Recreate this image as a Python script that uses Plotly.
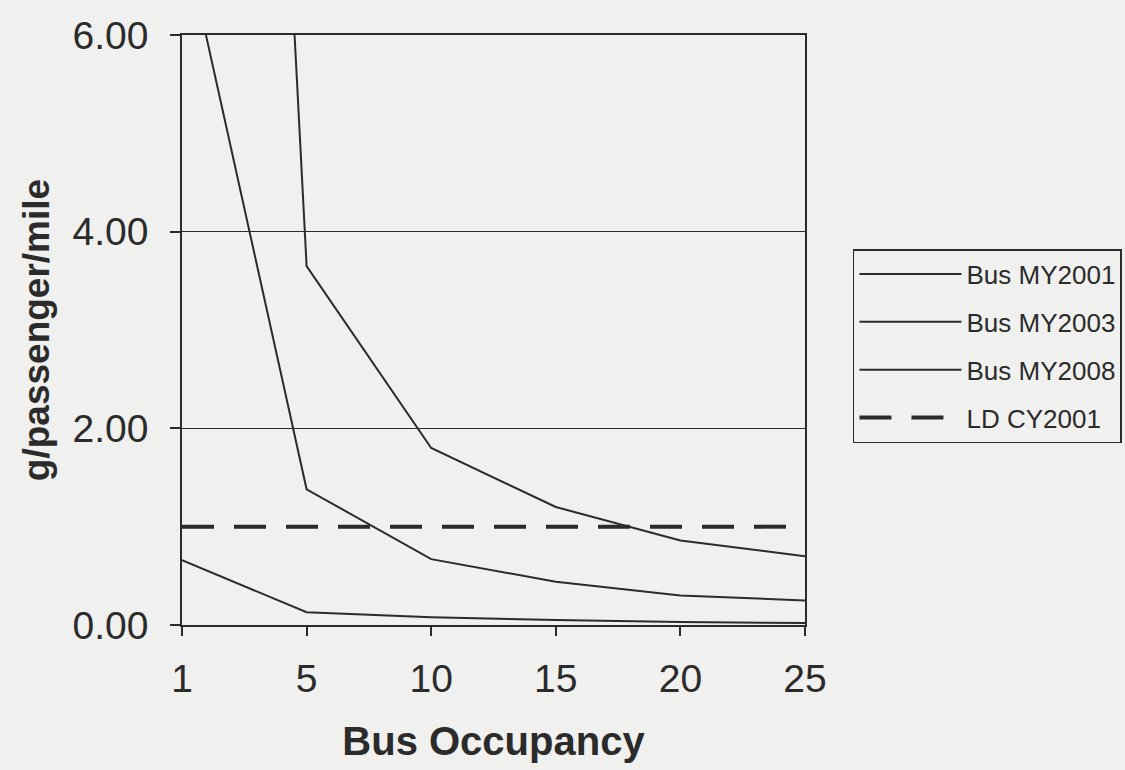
import plotly.graph_objects as go

occupancy = ["1", "5", "10", "15", "20", "25"]
bus_my2001 = [28.0, 3.65, 1.80, 1.20, 0.86, 0.70]
bus_my2003 = [7.1, 1.38, 0.67, 0.44, 0.30, 0.25]
bus_my2008 = [0.66, 0.13, 0.08, 0.05, 0.03, 0.02]
ld_cy2001 = [1.00, 1.00, 1.00, 1.00, 1.00, 1.00]

series = [
    ("Bus MY2001", bus_my2001, dict(color="#2b2b2b", width=2)),
    ("Bus MY2003", bus_my2003, dict(color="#2b2b2b", width=2)),
    ("Bus MY2008", bus_my2008, dict(color="#2b2b2b", width=2)),
    ("LD CY2001", ld_cy2001, dict(color="#2b2b2b", width=4, dash="32px,20px")),
]

fig = go.Figure()
for i, (name, vals, line) in enumerate(series):
    fig.add_trace(go.Scatter(x=occupancy, y=vals, mode="lines", name=name,
                             line=line, legendgroup=f"g{i}"))

bg = "#f0f0ee"
font = "Liberation Sans, Arial, sans-serif"
fig.update_layout(
    width=1125, height=770,
    paper_bgcolor=bg, plot_bgcolor=bg,
    margin=dict(l=182, r=320, t=35, b=145, autoexpand=False),
    font=dict(family=font, color="#2b2b2b"),
    showlegend=True,
    legend=dict(
        x=1.077, y=0.637, xanchor="left", yanchor="top",
        bgcolor=bg, bordercolor="#2b2b2b", borderwidth=1.5,
        font=dict(size=26, family=font, color="#2b2b2b"),
        traceorder="grouped", tracegroupgap=11, itemwidth=102,
    ),
    xaxis=dict(
        type="category", range=[0, 5],
        showgrid=False, zeroline=False,
        showline=True, linecolor="#2b2b2b", linewidth=1.5, mirror=True,
        ticks="outside", ticklen=9, tickcolor="#2b2b2b", tickwidth=1.5,
        ticklabelstandoff=9,
        tickfont=dict(size=39),
        title=dict(text="<b>Bus Occupancy</b>", font=dict(size=40), standoff=28),
    ),
    yaxis=dict(
        range=[0, 6], tickvals=[0, 2, 4, 6], tickformat=".2f",
        showgrid=True, gridcolor="#2b2b2b", gridwidth=1.2,
        zeroline=False,
        showline=True, linecolor="#2b2b2b", linewidth=1.5, mirror=True,
        ticks="outside", ticklen=10, tickcolor="#2b2b2b", tickwidth=1.5,
        ticklabelstandoff=14,
        tickfont=dict(size=39),
        title=dict(text="<b>g/passenger/mile</b>", font=dict(size=37), standoff=12),
    ),
)

fig.write_html("out.html", config={"displayModeBar": False},
               post_script="document.body.style.margin='0';")
